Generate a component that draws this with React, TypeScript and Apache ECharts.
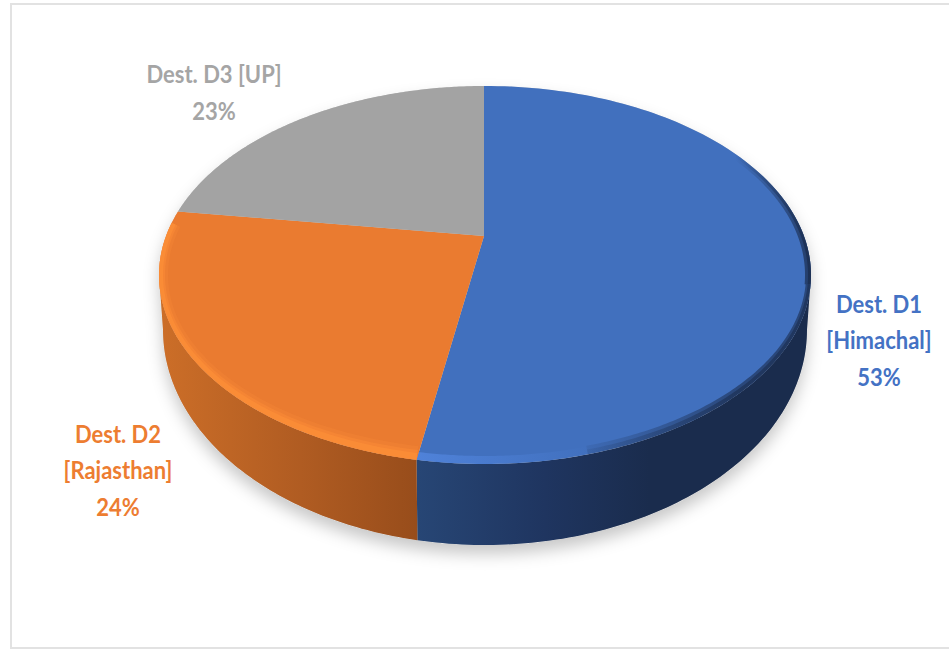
import React, { useEffect, useRef } from "react";
import * as echarts from "echarts";

// Share of trips per destination, clockwise from twelve o'clock.
const destinations = ["Dest. D1\n[Himachal]", "Dest. D2\n[Rajasthan]", "Dest. D3 [UP]"];
const shares = [53, 24, 23];
const labelColors = ["#4472c4", "#ed7d31", "#a5a5a5"];
const faceColors = ["#4170be", "#ea7b30", "#a3a3a3"];
const labelAnchors = [
  [879, 340],
  [118, 470],
  [214, 92],
];

// Tilted-disc geometry: the hub sits above the centre of the rim ellipse.
const hub = { x: 484, y: 236 };
const top = { x: 485, y: 275, a: 326, b: 189 };
const bottom = { x: 485, y: 330, a: 322, b: 215 };
const squash = 1.58;

const total = shares.reduce((s, v) => s + v, 0);
const cumulative = (i: number) => shares.slice(0, i).reduce((s, v) => s + v, 0) / total;

// Casts a ray from the hub for a pie fraction (clockwise from the top) and
// returns the rim ellipse's parameter where it lands.
function rimParam(f: number): number {
  const t = f * Math.PI * 2;
  const dx = (squash * Math.sin(t)) / top.a;
  const dy = -Math.cos(t) / top.b;
  const ox = (hub.x - top.x) / top.a;
  const oy = (hub.y - top.y) / top.b;
  const A = dx * dx + dy * dy;
  const B = 2 * (ox * dx + oy * dy);
  const C = ox * ox + oy * oy - 1;
  const k = (-B + Math.sqrt(B * B - 4 * A * C)) / (2 * A);
  let phi = Math.atan2(oy + k * dy, ox + k * dx);
  if (f > 0.5 && phi < 0) phi += Math.PI * 2;
  return phi;
}

type Ring = { x: number; y: number; a: number; b: number };

function arc(r: Ring, from: number, to: number, steps = 90): number[][] {
  const out: number[][] = [];
  for (let i = 0; i <= steps; i++) {
    const p = from + ((to - from) * i) / steps;
    out.push([r.x + r.a * Math.cos(p), r.y + r.b * Math.sin(p)]);
  }
  return out;
}

const gradient = (x0: number, x1: number, stops: [number, string][]) =>
  new echarts.graphic.LinearGradient(
    x0,
    0,
    x1,
    0,
    stops.map(([offset, color]) => ({ offset, color })),
    true,
  );

const wallFills = [
  gradient(416, 650, [
    [0, "#274675"],
    [0.55, "#1f3560"],
    [1, "#1a2c4d"],
  ]),
  gradient(160, 416, [
    [0, "#cc6e28"],
    [0.55, "#b05c22"],
    [1, "#984d1b"],
  ]),
];

// A strip just inside the rim, used for the soft bevel on the top face.
function band(from: number, to: number, dx: number, dy: number, fill: unknown) {
  const inner: Ring = { x: top.x, y: top.y, a: top.a - dx, b: top.b - dy };
  return {
    type: "polygon",
    silent: true,
    shape: { points: [...arc(top, from, to), ...arc(inner, to, from)] },
    style: { fill },
  };
}

function bevels(index: number) {
  const from = rimParam(cumulative(index));
  const to = rimParam(cumulative(index + 1));
  if (index === 1) {
    const end = Math.min(to, Math.PI + 0.28);
    return [
      band(from, end, 9, 14, "rgba(250,140,56,0.25)"),
      band(from, end, 6, 10, "rgba(252,142,56,0.45)"),
      band(from, end, 4, 7, "rgba(252,142,56,0.7)"),
    ];
  }
  if (index === 0) {
    const lit = gradient(416, 590, [
      [0, "rgba(84,136,226,0.75)"],
      [1, "rgba(84,136,226,0)"],
    ]);
    const shadeLow = gradient(560, 740, [
      [0, "rgba(26,44,77,0)"],
      [1, "rgba(26,44,77,0.6)"],
    ]);
    const shadeHigh = gradient(735, 811, [
      [0, "rgba(26,44,77,0)"],
      [1, "rgba(26,44,77,0.75)"],
    ]);
    const far = -0.95;
    return [
      band(1.0, to, 5, 8, lit),
      band(0.05, 1.25, 3, 5, shadeLow),
      band(0.05, 1.25, 5, 9, shadeLow),
      band(far, 0.05, 3, 3, shadeHigh),
      band(far, 0.05, 6, 5, shadeHigh),
    ];
  }
  return [];
}

export default function App() {
  const ref = useRef<HTMLDivElement>(null);

  useEffect(() => {
    const chart = echarts.init(ref.current!, null, { renderer: "svg" });
    const pieData = shares.map((value, i) => ({ name: destinations[i], value }));

    chart.setOption({
      animation: false,
      backgroundColor: "#ffffff",
      graphic: [
        {
          type: "polyline",
          silent: true,
          z: 0,
          shape: {
            points: [
              [949, 4],
              [11, 4],
              [11, 648],
              [949, 648],
            ],
          },
          style: { stroke: "#e2e2e2", lineWidth: 2, fill: "none" },
        },
      ],
      series: [
        // Cast shadow under the disc
        {
          type: "custom",
          coordinateSystem: "none",
          silent: true,
          z: 1,
          data: [0],
          renderItem: () => ({
            type: "polygon",
            shape: {
              points: [...arc(top, -Math.PI, 0), ...arc(bottom, 0, Math.PI)],
            },
            style: {
              fill: "#d0d0d0",
              shadowBlur: 16,
              shadowOffsetY: 9,
              shadowColor: "rgba(0,0,0,0.22)",
            },
          }),
        },
        // Side wall of the slices facing the viewer
        {
          type: "custom",
          coordinateSystem: "none",
          silent: true,
          z: 2,
          data: pieData,
          renderItem: (params: { dataIndex: number }) => {
            const i = params.dataIndex;
            const from = Math.max(0, rimParam(cumulative(i)));
            const to = Math.min(Math.PI, rimParam(cumulative(i + 1)));
            if (to <= from) return { type: "group", children: [] };
            return {
              type: "polygon",
              shape: { points: [...arc(top, from, to), ...arc(bottom, to, from)] },
              style: { fill: wallFills[i] },
            };
          },
        },
        // Top face, bevel and label of each slice
        {
          type: "custom",
          coordinateSystem: "none",
          silent: true,
          z: 3,
          data: pieData,
          renderItem: (params: { dataIndex: number }) => {
            const i = params.dataIndex;
            const from = rimParam(cumulative(i));
            const to = rimParam(cumulative(i + 1));
            const [lx, ly] = labelAnchors[i];
            return {
              type: "group",
              children: [
                {
                  type: "polygon",
                  shape: { points: [[hub.x, hub.y], ...arc(top, from, to, 160)] },
                  style: { fill: faceColors[i] },
                },
                ...bevels(i),
                {
                  type: "text",
                  x: lx,
                  y: ly,
                  scaleY: 1.12,
                  style: {
                    text: `${destinations[i]}\n${shares[i]}%`,
                    fill: labelColors[i],
                    font: 'bold 22px Lato, "Open Sans", sans-serif',
                    lineHeight: 32.6,
                    align: "center",
                    verticalAlign: "middle",
                  },
                },
              ],
            };
          },
        },
      ],
    });

    return () => chart.dispose();
  }, []);

  return (
    <div
      ref={ref}
      style={{ position: "absolute", left: 0, top: 0, width: 949, height: 650 }}
    />
  );
}
